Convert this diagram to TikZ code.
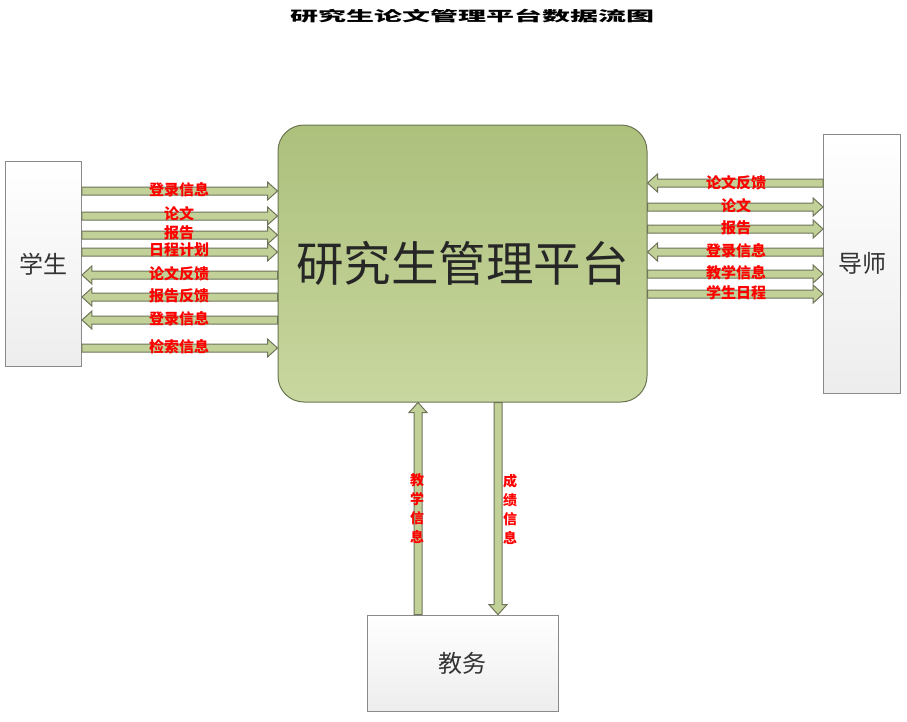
\documentclass[tikz,border=0pt]{standalone}
\usepackage{fontspec}
\setmainfont{Noto Sans CJK SC}
\newfontfamily\cjk{Noto Sans CJK SC}
\usetikzlibrary{calc}
\definecolor{platTop}{HTML}{ADC07C}
\definecolor{platBot}{HTML}{C8D79F}
\definecolor{platLine}{HTML}{6B7552}
\definecolor{arrFill}{HTML}{C2D197}
\definecolor{arrLine}{HTML}{6E745A}
\definecolor{boxLine}{HTML}{8A8A8A}
\definecolor{boxBot}{HTML}{EDEDED}
\tikzset{
  fat/.style={fill=arrFill, draw=arrLine, line width=1pt, line join=miter,
    to path={
      let \p1=(\tikztostart), \p2=(\tikztotarget),
          \n1={veclen(\x2-\x1,\y2-\y1)},
          \n2={(\x2-\x1)/\n1},
          \n3={(\y2-\y1)/\n1}
      in
      ({\x1-4*\n3+0pt},{\y1+4*\n2+0pt})
      -- ({\x1+(\n1-10)*\n2-4*\n3+0pt},{\y1+(\n1-10)*\n3+4*\n2+0pt})
      -- ({\x1+(\n1-10)*\n2-9*\n3+0pt},{\y1+(\n1-10)*\n3+9*\n2+0pt})
      -- (\tikztotarget)
      -- ({\x1+(\n1-10)*\n2+9*\n3+0pt},{\y1+(\n1-10)*\n3-9*\n2+0pt})
      -- ({\x1+(\n1-10)*\n2+4*\n3+0pt},{\y1+(\n1-10)*\n3-4*\n2+0pt})
      -- ({\x1+4*\n3+0pt},{\y1-4*\n2+0pt})
      -- cycle
    }},
  lbl/.style={text=red, font=\cjk\bfseries\fontsize{15}{15}\selectfont, inner sep=0pt},
  vlbl/.style={text=red, font=\cjk\bfseries\fontsize{14}{19}\selectfont, inner sep=0pt, align=center},
  ext/.style={draw=boxLine, line width=0.8pt, top color=white, bottom color=boxBot,
    font=\cjk\fontsize{24}{24}\selectfont, text=black!80, inner sep=0pt},
}
\begin{document}
\begin{tikzpicture}[x=1pt,y=-1pt]
\useasboundingbox (0,0) rectangle (907,721);
\fill[white] (0,0) rectangle (907,721);

% title
\node (title) at (472,16) {\scalebox{2.0}[1]{\cjk\bfseries\fontsize{14}{14}\selectfont 研究生论文管理平台数据流图}};

% platform
\node[draw=platLine, line width=1pt, rounded corners=26pt, top color=platTop, bottom color=platBot,
  minimum width=369pt, minimum height=277pt, inner sep=0pt,
  font=\cjk\fontsize{47.5}{47.5}\selectfont, text=black!85] (plat) at (462.5,263.5) {研究生管理平台};

% external entities
\node[ext, minimum width=76pt, minimum height=205pt] (stu) at (43.5,264) {学生};
\node[ext, minimum width=77pt, minimum height=259pt] (tea) at (862,263.5) {导师};
\node[ext, minimum width=191pt, minimum height=96pt] (jw) at (462.5,663) {教务};

% student arrows
\draw[fat] (stu.east |- 0,191) to (plat.west |- 0,191);
\draw[fat] (stu.east |- 0,216) to (plat.west |- 0,216);
\draw[fat] (stu.east |- 0,235) to (plat.west |- 0,235);
\draw[fat] (stu.east |- 0,252) to (plat.west |- 0,252);
\draw[fat] (plat.west |- 0,275) to (stu.east |- 0,275);
\draw[fat] (plat.west |- 0,297) to (stu.east |- 0,297);
\draw[fat] (plat.west |- 0,320) to (stu.east |- 0,320);
\draw[fat] (stu.east |- 0,348) to (plat.west |- 0,348);

\node[lbl] (s1) at (179,190) {登录信息};
\node[lbl] (s2) at (179,214) {论文};
\node[lbl] (s3) at (179,233) {报告};
\node[lbl] (s4) at (179,250) {日程计划};
\node[lbl] (s5) at (179,274) {论文反馈};
\node[lbl] (s6) at (179,296) {报告反馈};
\node[lbl] (s7) at (179,319) {登录信息};
\node[lbl] (s8) at (179,347) {检索信息};

% teacher arrows
\draw[fat] (tea.west |- 0,183) to (plat.east |- 0,183);
\draw[fat] (plat.east |- 0,207) to (tea.west |- 0,207);
\draw[fat] (plat.east |- 0,229) to (tea.west |- 0,229);
\draw[fat] (tea.west |- 0,252) to (plat.east |- 0,252);
\draw[fat] (plat.east |- 0,274) to (tea.west |- 0,274);
\draw[fat] (plat.east |- 0,294) to (tea.west |- 0,294);

\node[lbl] (t1) at (736,183) {论文反馈};
\node[lbl] (t2) at (736,206) {论文};
\node[lbl] (t3) at (736,228) {报告};
\node[lbl] (t4) at (736,251) {登录信息};
\node[lbl] (t5) at (736,273) {教学信息};
\node[lbl] (t6) at (736,293) {学生日程};

% bottom arrows
\draw[fat] (jw.north -| 418,0) to (plat.south -| 418,0);
\draw[fat] (plat.south -| 498,0) to (jw.north -| 498,0);

\node[vlbl] (b1) at (417,509) {教\\学\\信\\息};
\node[vlbl] (b2) at (510,509) {成\\绩\\信\\息};
\end{tikzpicture}
\end{document}
